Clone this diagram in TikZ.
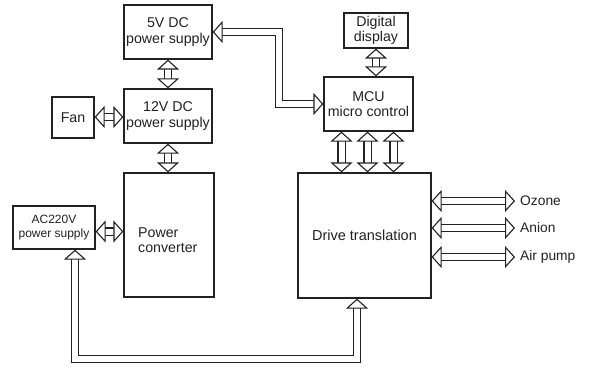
\documentclass[tikz,border=0pt]{standalone}
\usepackage{fontspec}
\setmainfont{Liberation Sans}
\usetikzlibrary{arrows.meta}
\definecolor{ink}{HTML}{222222}
\tikzset{
  blk/.style={draw=ink, line width=1.2pt, minimum width=#1, inner sep=0pt, align=center, text=ink, font=\fontsize{14.2}{15.5}\selectfont},
  dar/.style={draw=ink, double=white, double distance=6pt, line width=1.1pt, {Triangle[open, fill=white, length=10pt, width=22pt, line width=1.1pt]}-{Triangle[open, fill=white, length=10pt, width=22pt, line width=1.1pt]}},
  lbl/.style={anchor=west, inner xsep=5pt, inner ysep=0pt, text=ink, font=\fontsize{13.8}{15}\selectfont},
}
\begin{document}
\begin{tikzpicture}[x=1pt, y=-1pt]
\useasboundingbox[fill=white] (0,0) rectangle (592,369);
\node[blk=88pt, minimum height=54pt] (five) at (168,32) {5V DC\\power supply};
\node[blk=88pt, minimum height=54pt] (tw) at (168,116) {12V DC\\power supply};
\node[blk=42pt, minimum height=41pt] (fan) at (73,117.5) {Fan};
\node[blk=90pt, minimum height=124pt] (pc) at (169,235) {};
\node[anchor=west, align=left, inner sep=0pt, text=ink, font=\fontsize{14.2}{15.5}\selectfont] (pct) at (138,240) {Power\\converter};
\node[blk=82pt, minimum height=43pt, font=\fontsize{12}{13.5}\selectfont] (ac) at (54,227.5) {AC220V\\power supply};
\node[blk=64pt, minimum height=35pt] (disp) at (376,30.5) {Digital\\display};
\node[blk=89pt, minimum height=54pt] (mcu) at (368.5,104) {MCU\\micro control};
\node[blk=133pt, minimum height=125pt, font=\fontsize{14.5}{16}\selectfont] (drive) at (364.5,235.5) {Drive translation};
\node[lbl] (oz) at (515,201) {Ozone};
\node[lbl] (an) at (515,228) {Anion};
\node[lbl] (ap) at (515,257) {Air pump};
% connectors
\draw[dar] (five.south) -- (five.south |- tw.north);
\draw[dar] (fan.east |- 0,117) -- (tw.west |- 0,117);
\draw[dar] (tw.south) -- (tw.south |- pc.north);
\draw[dar] ([yshift=-4pt]ac.east) -- ([yshift=-4pt]ac.east -| pc.west);
\draw[dar] (disp.south) -- (disp.south |- mcu.north);
\foreach \dx in {-27,-1,25} {
  \draw[dar] ([xshift=\dx pt]mcu.south) -- ([xshift=\dx pt]mcu.south |- drive.north);
}
\draw[dar] (drive.east |- oz.west) -- (oz.west);
\draw[dar] (drive.east |- an.west) -- (an.west);
\draw[dar] (drive.east |- ap.west) -- (ap.west);
\coordinate (bend) at (279,0);
\draw[dar] (five.east) -- (five.east -| bend) -- (bend |- mcu.west) -- (mcu.west);
\coordinate (a1) at ([xshift=21pt]ac.south);
\coordinate (d1) at ([xshift=-7.5pt]drive.south);
\coordinate (bot) at (0,359);
\draw[dar] (a1) -- (a1 |- bot) -- (d1 |- bot) -- (d1);
\end{tikzpicture}
\end{document}
